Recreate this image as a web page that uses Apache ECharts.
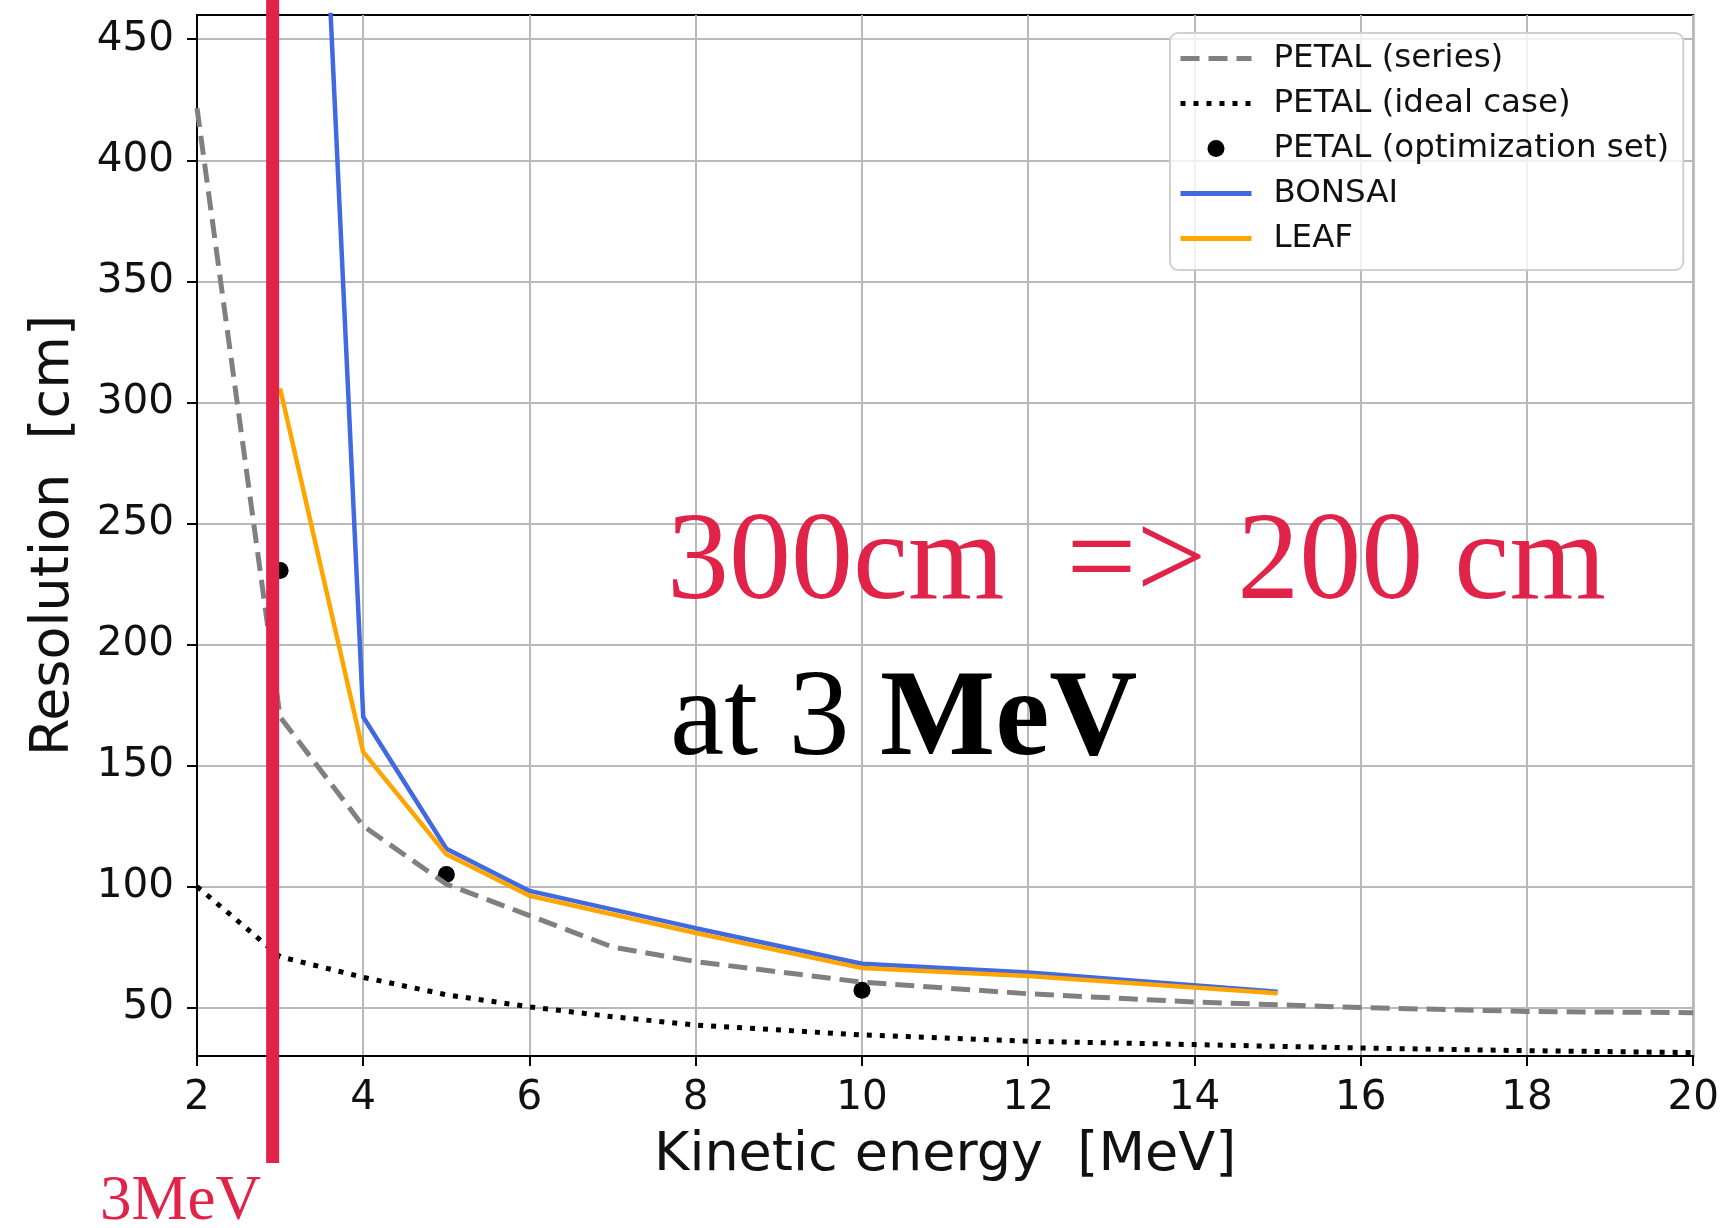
<!DOCTYPE html>
<html>
<head>
<meta charset="UTF-8">
<script src="https://cdn.jsdelivr.net/npm/echarts@6/dist/echarts.min.js"></script>
<style>
html, body { margin: 0; padding: 0; background: #fff; }
#main { width: 1722px; height: 1228px; }
</style>
</head>
<body>
<div id="main"></div>
<script>
// kinetic energy [MeV] -> resolution [cm]
const petalSeriesE = [2, 3, 4, 5, 6, 7, 8, 10, 12, 14, 16, 18, 20];
const petalSeriesR = [421.5, 170, 125, 101, 88, 75, 69, 60.5, 55.7, 52.3, 50, 48.4, 47.9];

const petalIdealE = [2, 3, 4, 5, 6, 7, 8, 10, 12, 14, 16, 18, 20];
const petalIdealR = [100, 71, 62.5, 55.3, 50.3, 46.2, 42.8, 38.7, 36.1, 34.7, 33.3, 32.2, 31.4];

const petalOptE = [3, 5, 10];
const petalOptR = [230.5, 105, 57.2];

const bonsaiE = [3, 4, 5, 6, 8, 10, 12, 15];
const bonsaiR = [910, 170, 115.6, 98.2, 82.8, 68.1, 64.5, 56.5];

const leafE = [3, 4, 5, 6, 8, 10, 12, 15];
const leafR = [305.7, 155.5, 113.3, 96.2, 80.8, 66.3, 63, 55.9];

const yTicks = [50, 100, 150, 200, 250, 300, 350, 400, 450];
const markerEnergy = 2.91;

function pairs(xs, ys) {
    return xs.map(function (x, i) { return [x, ys[i]]; });
}

const chart = echarts.init(document.getElementById('main'), null, { renderer: 'canvas' });

const sans = 'DejaVu Sans';
const serif = 'Liberation Serif';
const red = '#E1234A';

const option = {
    backgroundColor: '#fff',
    animation: false,
    grid: {
        left: 197, top: 15, right: 27, bottom: 172,
        show: true, borderColor: '#000', borderWidth: 2, backgroundColor: '#fff'
    },
    legend: {
        orient: 'vertical',
        left: 1170, top: 33,
        padding: [9, 14, 15, 8],
        itemWidth: 71, itemHeight: 17, itemGap: 12,
        backgroundColor: 'rgba(255,255,255,0.8)',
        borderColor: '#d0d0d0', borderWidth: 2, borderRadius: 8,
        textStyle: { fontFamily: sans, fontSize: 32.5, color: '#111', padding: [0, 0, 0, 17] },
        data: [
            { name: 'PETAL (series)', itemStyle: { opacity: 0 }, lineStyle: { width: 5 } },
            { name: 'PETAL (ideal case)', itemStyle: { opacity: 0 }, lineStyle: { width: 5 } },
            { name: 'PETAL (optimization set)' },
            { name: 'BONSAI', itemStyle: { opacity: 0 }, lineStyle: { width: 5 } },
            { name: 'LEAF', itemStyle: { opacity: 0 }, lineStyle: { width: 5 } }
        ]
    },
    xAxis: {
        type: 'value', min: 2, max: 20, interval: 2,
        name: 'Kinetic energy  [MeV]', nameLocation: 'middle', nameGap: 73,
        nameTextStyle: { fontFamily: sans, fontSize: 54, color: '#111' },
        axisLine: { show: true, lineStyle: { color: '#000', width: 2 } },
        axisTick: { show: true, length: 10, lineStyle: { color: '#000', width: 2 } },
        axisLabel: { fontFamily: sans, fontSize: 40.5, color: '#111', margin: 22 },
        splitLine: { show: true, lineStyle: { color: '#b9b9b9', width: 2 } }
    },
    yAxis: {
        type: 'value', min: 30, max: 460, minInterval: 50, maxInterval: 50,
        name: 'Resolution  [cm]', nameLocation: 'middle', nameGap: 116,
        nameTextStyle: { fontFamily: sans, fontSize: 54, color: '#111' },
        axisLine: { show: true, lineStyle: { color: '#000', width: 2 } },
        axisTick: { show: true, length: 10, customValues: yTicks, lineStyle: { color: '#000', width: 2 } },
        axisLabel: { fontFamily: sans, fontSize: 40.5, color: '#111', margin: 23, customValues: yTicks },
        splitLine: { show: true, lineStyle: { color: '#b9b9b9', width: 2 } }
    },
    series: [
        {
            name: 'PETAL (series)', type: 'line', symbol: 'none',
            lineStyle: { color: '#808080', width: 5, type: [19, 9] },
            itemStyle: { color: '#808080' },
            data: pairs(petalSeriesE, petalSeriesR)
        },
        {
            name: 'PETAL (ideal case)', type: 'line', symbol: 'none',
            lineStyle: { color: '#000', width: 5, type: [5, 8] },
            itemStyle: { color: '#000' },
            data: pairs(petalIdealE, petalIdealR)
        },
        {
            name: 'PETAL (optimization set)', type: 'scatter', symbol: 'circle', symbolSize: 17,
            itemStyle: { color: '#000', opacity: 1 },
            data: pairs(petalOptE, petalOptR)
        },
        {
            name: 'BONSAI', type: 'line', symbol: 'none',
            lineStyle: { color: '#4169E1', width: 4.5 },
            itemStyle: { color: '#4169E1' },
            data: pairs(bonsaiE, bonsaiR)
        },
        {
            name: 'LEAF', type: 'line', symbol: 'none',
            lineStyle: { color: '#FFA500', width: 4.5 },
            itemStyle: { color: '#FFA500' },
            data: pairs(leafE, leafR)
        }
    ]
};
chart.setOption(option);

// annotations drawn over the chart
const barX = chart.convertToPixel({ xAxisIndex: 0 }, markerEnergy);
chart.setOption({
    graphic: [
        {
            type: 'rect', z: 100,
            shape: { x: barX - 6.5, y: 0, width: 13, height: 1163 },
            style: { fill: red }
        },
        {
            type: 'text', z: 100, x: 100, y: 1202,
            style: { text: '3MeV', fill: red, font: '63px "Liberation Serif"', verticalAlign: 'middle' }
        },
        {
            type: 'text', z: 100, x: 667, y: 565,
            style: { text: '300cm  => 200 cm', fill: red, font: '124px "Liberation Serif"', verticalAlign: 'middle' }
        },
        {
            type: 'text', z: 100, x: 670, y: 722,
            style: {
                text: '{r|at 3 }{b|MeV}', verticalAlign: 'middle',
                rich: {
                    r: { fontFamily: serif, fontSize: 122, fill: '#000' },
                    b: { fontFamily: serif, fontSize: 122, fontWeight: 'bold', fill: '#000' }
                }
            }
        }
    ]
});
</script>
</body>
</html>
